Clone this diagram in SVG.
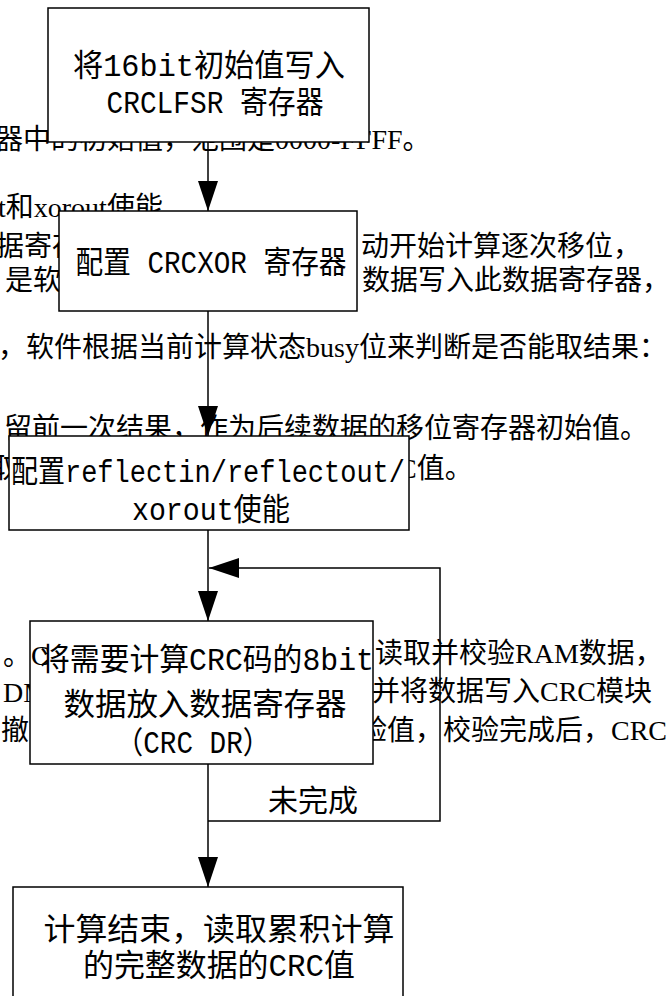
<svg xmlns="http://www.w3.org/2000/svg" width="668" height="996" viewBox="0 0 668 996">
<style>
.bg{font-family:"Liberation Serif","Noto Sans CJK SC",serif;font-size:28px;fill:#000}
.box{fill:#fff;stroke:#000;stroke-width:1.5}
.t{font-family:"Liberation Mono","Noto Sans CJK SC",monospace;font-size:31px;fill:#000;text-anchor:middle}
.lbl{font-family:"Liberation Mono","Noto Sans CJK SC",monospace;font-size:30px;fill:#000}
.ln{fill:none;stroke:#000;stroke-width:1.5}
</style>
<defs>
<marker id="ah" markerUnits="userSpaceOnUse" markerWidth="30" markerHeight="20" refX="30" refY="10" orient="auto" overflow="visible">
<path d="M0,0 L30,10 L0,20 Z" fill="#000" stroke="none"/>
</marker>
</defs>
<rect width="668" height="996" fill="#fff"/>
<g id="background-text" class="bg">
<text x="-5" y="149">器中的初始值，范围是0000-FFFF。</text>
<text x="-2" y="217">t和xorout使能</text>
<text x="-4" y="256">据寄存</text>
<text x="361" y="256">动开始计算逐次移位，</text>
<text x="5" y="290">是软</text>
<text x="362" y="290">数据写入此数据寄存器，</text>
<text x="-2" y="357">，软件根据当前计算状态busy位来判断是否能取结果：</text>
<text x="4" y="438">留前一次结果，作为后续数据的移位寄存器初始值。</text>
<text x="-10" y="478">取</text>
<text x="398" y="478">C值。</text>
<text x="375" y="663">读取并校验RAM数据，</text>
<text x="3" y="702">DM</text>
<text x="372" y="701">并将数据写入CRC模块</text>
<text x="1" y="740">撤销</text>
<text x="359" y="740">验值，校验完成后，CRC</text>
</g>
<g id="connectors" class="ln">
<line x1="208" y1="142" x2="208" y2="211" marker-end="url(#ah)"/>
<line x1="208" y1="311" x2="208" y2="436" marker-end="url(#ah)"/>
<line x1="208" y1="530" x2="208" y2="621" marker-end="url(#ah)"/>
<line x1="208" y1="764" x2="208" y2="887" marker-end="url(#ah)"/>
<polyline points="208,821 440,821 440,568 209,568" marker-end="url(#ah)"/>
<text class="lbl" x="268" y="811" stroke="none">未完成</text>
</g>
<g id="node1">
<rect class="box" x="48" y="8" width="321" height="134"/>
<text class="t" x="209" y="76" textLength="272" lengthAdjust="spacingAndGlyphs">将16bit初始值写入</text>
<text class="t" x="215" y="113" textLength="217" lengthAdjust="spacingAndGlyphs">CRCLFSR 寄存器</text>
</g>
<g id="node2">
<rect class="box" x="59" y="211" width="298" height="100"/>
<text class="t" x="211" y="273" textLength="271" lengthAdjust="spacingAndGlyphs">配置 CRCXOR 寄存器</text>
</g>
<g id="node3">
<rect class="box" x="9" y="436" width="400" height="94"/>
<text class="t" x="208" y="482" textLength="394" lengthAdjust="spacingAndGlyphs">配置reflectin/reflectout/</text>
<text class="t" x="211" y="520" textLength="158" lengthAdjust="spacingAndGlyphs">xorout使能</text>
</g>
<g id="node4">
<rect class="box" x="30" y="621" width="343" height="143"/>
<text class="bg" x="3" y="665">。C</text>
<text class="t" x="207" y="670" textLength="334" lengthAdjust="spacingAndGlyphs">将需要计算CRC码的8bit</text>
<text class="t" x="205" y="715" textLength="283" lengthAdjust="spacingAndGlyphs">数据放入数据寄存器</text>
<text class="t" x="193" y="753" textLength="155" lengthAdjust="spacingAndGlyphs">（CRC DR）</text>
</g>
<g id="node5">
<rect class="box" x="13" y="887" width="390" height="130"/>
<text class="t" x="219" y="940" textLength="351" lengthAdjust="spacingAndGlyphs">计算结束，读取累积计算</text>
<text class="t" x="219" y="976" textLength="272" lengthAdjust="spacingAndGlyphs">的完整数据的CRC值</text>
</g>
</svg>
